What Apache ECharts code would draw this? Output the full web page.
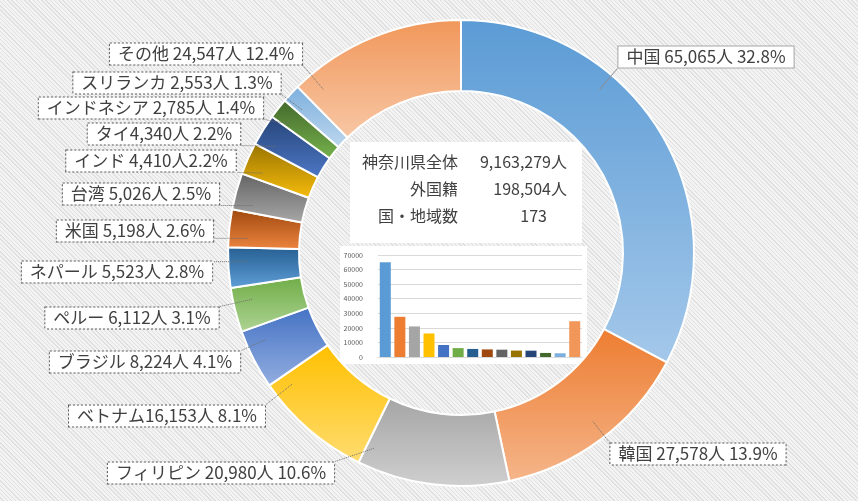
<!DOCTYPE html>
<html><head><meta charset="utf-8">
<script src="https://cdn.jsdelivr.net/npm/echarts@6/dist/echarts.min.js"></script>
<style>
html,body{margin:0;padding:0;}
#c{width:858px;height:501px;background:repeating-linear-gradient(45deg,#f3f3f3 0px,#f3f3f3 2px,#e0e0e0 2px,#e0e0e0 3px);}
</style></head><body><div id="c"></div>
<script>
// ---- data ----
const categories = ['中国','韓国','フィリピン','ベトナム','ブラジル','ペルー','ネパール','米国','台湾','インド','タイ','インドネシア','スリランカ','その他'];
const values = [65065,27578,20980,16153,8224,6112,5523,5198,5026,4410,4340,2785,2553,24547];
const summaryLabels = ['神奈川県全体','外国籍','国・地域数'];
const summaryValues = ['9,163,279人','198,504人','173'];
const barAxisMin = 0, barAxisMax = 70000, barAxisStep = 10000;

// ---- styles / layout ----
const topColors = ['#5b9bd5','#ed7d31','#a5a5a5','#ffc000','#4472c4','#70ad47','#255e91','#9e480e','#636363','#997300','#264478','#43682b','#7cafdd','#f1975a'];
const bottomColors = ['#a4c8ea','#f5b58a','#cfcfcf','#ffdc70','#93aee0','#aed494','#5f9fd8','#ee8540','#a8a8a8','#f7bd0c','#4d78c6','#76b24c','#bdd7ee','#f8c7a5'];
const sepName = [' ',' ',' ','',' ',' ',' ',' ',' ',' ','',' ',' ',' '];
const sepPct  = [' ',' ',' ',' ',' ',' ',' ',' ',' ','',' ',' ',' ',' '];
const labelPos = [[706,57],[698,454],[221,473],[167,416],[145,362],[132,318],[117,272],[135,231],[141,194],[151,161],[164,134],[151,108],[177,83],[206,54]];
const CX = 461, CY = 253, R_IN = 162, R_OUT = 233, R_LEADER = 214;

const total = values.reduce((a,b)=>a+b,0);
const fmt = v => v.toLocaleString('en-US');
const FONT = '"Noto Sans CJK JP", "Noto Sans", sans-serif';

// angular range of each slice (degrees clockwise from 12 o'clock), used only for leader lines
const sliceRange = [];
{ let acc = 0; values.forEach(v=>{ const a = v/total*360; sliceRange.push([acc, acc+a]); acc += a; }); }

const chart = echarts.init(document.getElementById('c'), null, {renderer:'canvas'});

const ringData = values.map((v,i)=>({
  value:v, name:categories[i],
  itemStyle:{color:{type:'linear',x:0,y:0,x2:0,y2:1,colorStops:[{offset:0,color:topColors[i]},{offset:1,color:bottomColors[i]}]}}
}));
const labelData = values.map((v,i)=>{
  const solid = i===0;
  return {
    value:v, name:categories[i],
    label:{
      formatter: categories[i] + sepName[i] + fmt(v) + '人' + sepPct[i] + (v/total*100).toFixed(1) + '%',
      borderType: solid ? 'solid' : 'dotted',
      borderColor: solid ? '#a6a6a6' : '#595959'
    },
    labelLine:{lineStyle:{type: solid ? 'solid' : 'dotted', color: solid ? '#8c8c8c' : '#6f6f6f'}}
  };
});

const summaryRows = [162,189,216];
const graphicEls = [
  {type:'rect', z:-10, shape:{x:350,y:142,width:232,height:101}, style:{fill:'#ffffff'}},
  {type:'rect', z:-10, shape:{x:340,y:246,width:247,height:118}, style:{fill:'#ffffff'}}
];
summaryLabels.forEach((t,i)=>{
  graphicEls.push({type:'text', z:5, x:458, y:summaryRows[i], style:{text:t, align:'right', verticalAlign:'middle', font:'16px '+FONT, fill:'#404040'}});
  graphicEls.push({type:'text', z:5, x:(i===2?547:567), y:summaryRows[i], style:{text:summaryValues[i], align:'right', verticalAlign:'middle', font:'16px '+FONT, fill:'#404040'}});
});

const D2R = Math.PI/180;
function ptAt(theta, r){ return [CX + r*Math.sin(theta*D2R), CY - r*Math.cos(theta*D2R)]; }
function dirOf(x, y){ let t = Math.atan2(x-CX, -(y-CY))/D2R; if (t<0) t += 360; return t; }

function layoutLabel(p){
  const i = p.dataIndex;
  const q = labelPos[i];
  const w = p.labelRect.width, h = p.labelRect.height;
  const l = q[0]-w/2, r = q[0]+w/2, t = q[1]-h/2, b = q[1]+h/2;
  const rg = sliceRange[i];
  const margin = Math.min(2, (rg[1]-rg[0])/4);
  const clampT = th => {
    // bring th near range
    const mid = (rg[0]+rg[1])/2;
    while (th - mid > 180) th -= 360;
    while (mid - th > 180) th += 360;
    return Math.min(Math.max(th, rg[0]+margin), rg[1]-margin);
  };
  let theta = (rg[0]+rg[1])/2;
  let s = ptAt(theta, R_LEADER), e = [0,0];
  for (let k=0;k<3;k++){
    e = [Math.min(Math.max(s[0], l), r), Math.min(Math.max(s[1], t), b)];
    theta = clampT(dirOf(e[0], e[1]));
    s = ptAt(theta, R_LEADER);
  }
  e = [Math.min(Math.max(s[0], l), r), Math.min(Math.max(s[1], t), b)];
  return {x:q[0], y:q[1], align:'center', verticalAlign:'middle',
    labelLinePoints:[s, [(s[0]+e[0])/2,(s[1]+e[1])/2], e]};
}

chart.setOption({
  backgroundColor:'transparent',
  animation:false,
  textStyle:{fontFamily:FONT},
  graphic:{elements:graphicEls},
  grid:{left:378, top:255, width:204, height:102},
  xAxis:{type:'category', data:categories, axisLabel:{show:false}, axisTick:{show:false},
    axisLine:{lineStyle:{color:'#d9d9d9'}}},
  yAxis:{type:'value', min:barAxisMin, max:barAxisMax, interval:barAxisStep,
    axisLabel:{fontSize:7, color:'#595959', margin:15, fontFamily:FONT, formatter:v=>String(v)},
    splitLine:{lineStyle:{color:'#d9d9d9'}}, axisLine:{show:false}, axisTick:{show:false}},
  series:[
    {type:'bar', data:values.map((v,i)=>({value:v, itemStyle:{color:topColors[i]}})), barWidth:11, silent:true},
    {type:'pie', center:[CX,CY], radius:[R_IN,R_OUT], startAngle:90, clockwise:true,
      avoidLabelOverlap:false, silent:true, label:{show:false}, labelLine:{show:false},
      itemStyle:{borderColor:'#ffffff', borderWidth:2}, data:ringData},
    {type:'pie', center:[CX,CY], radius:[R_IN,208], startAngle:90, clockwise:true, z:4,
      avoidLabelOverlap:false, silent:true,
      itemStyle:{color:'rgba(0,0,0,0)', borderWidth:0},
      label:{show:true, position:'outside', color:'#404040', fontSize:17, lineHeight:19, fontFamily:FONT,
        backgroundColor:'#ffffff', borderWidth:1, padding:[1,8,1,8]},
      labelLine:{show:true, length:10, length2:10, lineStyle:{width:1}},
      labelLayout:layoutLabel,
      data:labelData}
  ]
});
</script></body></html>
